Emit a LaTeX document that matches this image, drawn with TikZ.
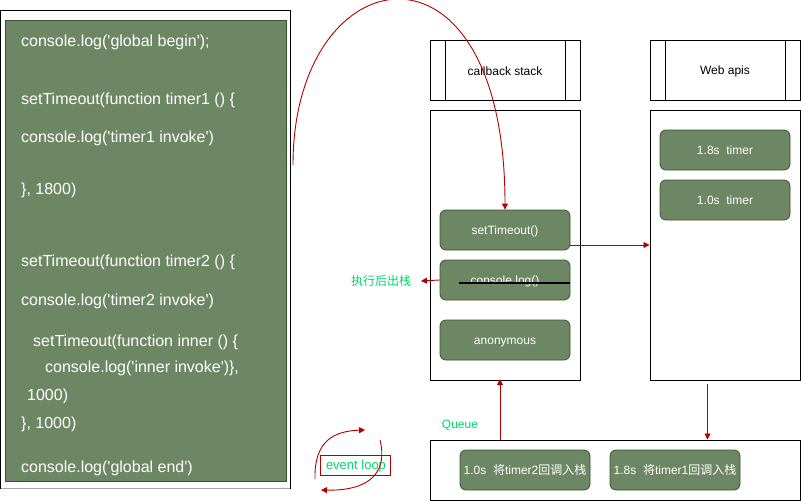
\documentclass[tikz,border=0pt]{standalone}
\usepackage{fontspec}
\setmainfont{Liberation Sans}[Ligatures=TeXOff]
\newfontfamily\cjk{Noto Sans CJK SC}
\usetikzlibrary{arrows.meta}
\definecolor{boxfill}{HTML}{6D8764}
\definecolor{boxline}{HTML}{3A5431}
\definecolor{arrred}{HTML}{B20000}
\definecolor{labgreen}{HTML}{00D86A}
\newcommand{\qt}{\textquotesingle}
\tikzset{
  gbox/.style={draw=boxline, fill=boxfill, rounded corners=6pt, line width=0.8pt, text=white, font=\fontsize{12}{14}\selectfont, inner sep=0pt, text height=8.6pt, text depth=0pt},
  frame/.style={draw=black, line width=1pt},
  codeline/.style={anchor=west, text=white, font=\fontsize{16}{18}\selectfont, inner sep=0pt},
  redarrow/.style={draw=arrred, line width=0.9pt, -{Triangle[length=6pt,width=6pt]}},
  greenlab/.style={text=labgreen, font=\fontsize{12}{14}\selectfont, inner sep=0pt},
  blacklab/.style={text=black, font=\fontsize{12}{14}\selectfont, inner sep=0pt}
}
\begin{document}
\begin{tikzpicture}[x=1pt,y=-1pt]
\useasboundingbox (0,0) rectangle (801,501);
% code frame
\draw[frame] (0.5,10) rectangle (290,488.5);
\draw[gray!70, line width=1.5pt] (0.5,488.5) -- (290,488.5);
\draw[draw=boxline, fill=boxfill, line width=0.8pt] (5,20) rectangle (286,481);
\node[codeline] (c1) at (21,42) {console.log(\qt global begin\qt);};
\node[codeline] (c2) at (21,100) {setTimeout(function timer1 () \{};
\node[codeline] (c3) at (21,138) {console.log(\qt timer1 invoke\qt)};
\node[codeline] (c4) at (21,190) {\}, 1800)};
\node[codeline] (c5) at (21,262) {setTimeout(function timer2 () \{};
\node[codeline] (c6) at (21,301) {console.log(\qt timer2 invoke\qt)};
\node[codeline] (c7) at (33,342) {setTimeout(function inner () \{};
\node[codeline] (c8) at (45,368) {console.log(\qt inner invoke\qt)\},};
\node[codeline] (c9) at (27,396) {1000)};
\node[codeline] (c10) at (21,424) {\}, 1000)};
\node[codeline] (c11) at (21,468) {console.log(\qt global end\qt)};
% headers
\draw[frame] (430,40) rectangle (580,100);
\draw[frame] (445.5,40) -- (445.5,100) (565,40) -- (565,100);
\node[blacklab] (cbs) at (505,71) {callback stack};
\draw[frame] (650,40) rectangle (800,100);
\draw[frame] (665.5,40) -- (665.5,100) (785,40) -- (785,100);
\node[blacklab] (wapi) at (725,71) {Web apis};
% bodies
\node[frame, minimum width=150pt, minimum height=270pt, inner sep=0pt] (stack) at (505,245) {};
\node[frame, minimum width=150pt, minimum height=270pt, inner sep=0pt] (web) at (725,245) {};
\node[frame, minimum width=370pt, minimum height=60pt, inner sep=0pt] (queue) at (615,470) {};
% stack boxes
\node[gbox, minimum width=130pt, minimum height=40pt] (st) at (505,230) {setTimeout()};
\node[gbox, minimum width=130pt, minimum height=40pt] (cl) at (505,280) {console.log()};
\node[gbox, minimum width=130pt, minimum height=40pt] (an) at (505,340) {anonymous};
\coordinate (s1) at (459,283);
\coordinate (s2) at (570,283);
\draw[black, line width=2pt] (s1) -- (s2);
% web boxes
\node[gbox, minimum width=130pt, minimum height=40pt] (t18) at (725,150) {1.8s\ \ timer};
\node[gbox, minimum width=130pt, minimum height=40pt] (t10) at (725,200) {1.0s\ \ timer};
% queue boxes
\node[gbox, minimum width=130pt, minimum height=40pt] (q1) at (525,470) {1.0s\ \ {\cjk 将}timer2{\cjk 回调入栈}};
\node[gbox, minimum width=130pt, minimum height=40pt] (q2) at (675,470) {1.8s\ \ {\cjk 将}timer1{\cjk 回调入栈}};
% labels
\node[greenlab, font=\fontsize{12}{14}\selectfont\cjk] (pop) at (381,281) {执行后出栈};
\node[greenlab] (ql) at (460,425) {Queue};
\node[draw=arrred, line width=1pt, minimum width=70pt, minimum height=20pt, inner sep=0pt] (el) at (355,465.5) {};
\node[greenlab, font=\fontsize{13}{15}\selectfont] (elt) at (356,466) {event loop};
% arrows
\coordinate (cstart) at (293,165);
\draw[redarrow] (cstart) .. controls +(0,-210) and +(0,-290) .. (st.north);
\draw[redarrow] (cl.west) -- (pop.east -| 421,0);
\draw[redarrow] (st.east |- 0,245) -- (web.west |- 0,245);
\coordinate (wb) at (707.5,384);
\draw[redarrow] (wb) -- (queue.north -| wb);
\coordinate (qs) at (500,440);
\draw[redarrow, shorten >=-1.5pt] (qs) -- (stack.south -| qs);
\coordinate (l1a) at (315,479);
\coordinate (l1b) at (365,430);
\draw[redarrow] (l1a) .. controls (314,440) and (335,431) .. (l1b);
\coordinate (l2a) at (380,440);
\coordinate (l2b) at (321,490);
\draw[redarrow] (l2a) .. controls (388,472) and (370,491) .. (l2b);
\end{tikzpicture}
\end{document}
